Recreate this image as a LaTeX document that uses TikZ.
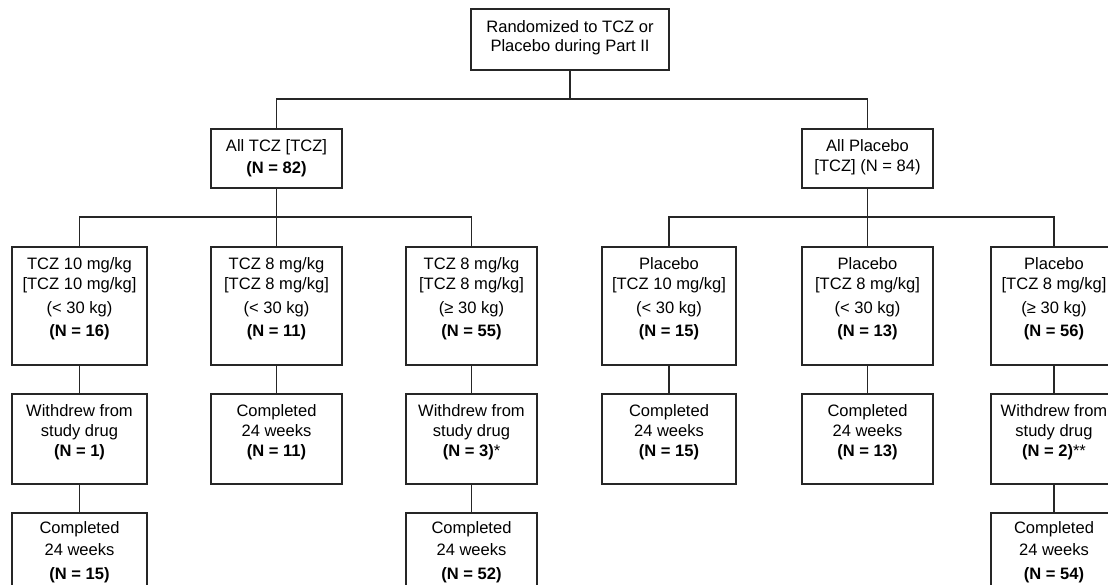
\documentclass[tikz,border=0pt]{standalone}
\usepackage{fontspec}
\setmainfont{Liberation Sans}
\newcommand{\boxtxt}[4]{\parbox[t][\dimexpr#2pt*3/4\relax][t]{\dimexpr#1pt*3/4\relax}{\centering\fontsize{12.4pt}{15pt}\selectfont\rule{0pt}{\dimexpr#3pt*3/4\relax}#4\par}}
\tikzset{
  fbox/.style={draw=black!85, line width=1pt, inner sep=0pt, rectangle},
  conn/.style={draw=black!85, line width=1pt}
}
\begin{document}
\begin{tikzpicture}[x=0.75pt,y=-0.75pt]
\useasboundingbox (0,0) rectangle (1108,585);
\clip (0,0) rectangle (1108,585);
% top
\node[fbox] (top) at (570,39.5) {\boxtxt{198}{61}{24}{Randomized to TCZ or\\[-0.75pt]Placebo during Part II}};
% level 2
\node[fbox] (tcz) at (276.5,158.5) {\boxtxt{131}{59}{22.7}{All TCZ [TCZ]\\[1.5pt]\textbf{(N = 82)}}};
\node[fbox] (pla) at (867.5,158.5) {\boxtxt{131}{59}{22.7}{All Placebo\\{[TCZ] (N = 84)}}};
% level 3
\node[fbox] (b1) at (79.5,306) {\boxtxt{135}{118}{22}{TCZ 10 mg/kg\\{[TCZ 10 mg/kg]}\\[3pt](< 30 kg)\\[3pt]\textbf{(N = 16)}}};
\node[fbox] (b2) at (276.5,306) {\boxtxt{131}{118}{22}{TCZ 8 mg/kg\\{[TCZ 8 mg/kg]}\\[3pt](< 30 kg)\\[3pt]\textbf{(N = 11)}}};
\node[fbox] (b3) at (471.5,306) {\boxtxt{131}{118}{22}{TCZ 8 mg/kg\\{[TCZ 8 mg/kg]}\\[3pt](≥ 30 kg)\\[3pt]\textbf{(N = 55)}}};
\node[fbox] (b4) at (669,306) {\boxtxt{134}{118}{22}{Placebo\\{[TCZ 10 mg/kg]}\\[3pt](< 30 kg)\\[3pt]\textbf{(N = 15)}}};
\node[fbox] (b5) at (867.5,306) {\boxtxt{131}{118}{22}{Placebo\\{[TCZ 8 mg/kg]}\\[3pt](< 30 kg)\\[3pt]\textbf{(N = 13)}}};
\node[fbox] (b6) at (1054,306) {\boxtxt{126}{118}{22}{Placebo\\{[TCZ 8 mg/kg]}\\[3pt](≥ 30 kg)\\[3pt]\textbf{(N = 56)}}};
% level 4
\node[fbox] (r1) at (79.5,439) {\boxtxt{135}{90}{22}{Withdrew from\\study drug\\\textbf{(N = 1)}}};
\node[fbox] (r2) at (276.5,439) {\boxtxt{131}{90}{22}{Completed\\24 weeks\\\textbf{(N = 11)}}};
\node[fbox] (r3) at (471.5,439) {\boxtxt{131}{90}{22}{Withdrew from\\study drug\\\textbf{(N = 3)}*}};
\node[fbox] (r4) at (669,439) {\boxtxt{134}{90}{22}{Completed\\24 weeks\\\textbf{(N = 15)}}};
\node[fbox] (r5) at (867.5,439) {\boxtxt{131}{90}{22}{Completed\\24 weeks\\\textbf{(N = 13)}}};
\node[fbox] (r6) at (1054,439) {\boxtxt{126}{90}{22}{Withdrew from\\study drug\\\textbf{(N = 2)}**}};
% level 5
\node[fbox] (s1) at (79.5,558) {\boxtxt{135}{90}{20}{Completed\\[1.5pt]24 weeks\\[3pt]\textbf{(N = 15)}}};
\node[fbox] (s3) at (471.5,558) {\boxtxt{131}{90}{20}{Completed\\[1.5pt]24 weeks\\[3pt]\textbf{(N = 52)}}};
\node[fbox] (s6) at (1054,558) {\boxtxt{126}{90}{20}{Completed\\[1.5pt]24 weeks\\[3pt]\textbf{(N = 54)}}};
% junctions
\coordinate (j1) at (570,99);
\coordinate (j2) at (276.5,217);
\coordinate (j3) at (867.5,217);
% connectors
\draw[conn] (top.south) -- (j1);
\draw[conn] (tcz.north) |- (j1) -| (pla.north);
\draw[conn] (tcz.south) -- (j2);
\draw[conn] (b1.north) |- (j2) -| (b3.north);
\draw[conn] (j2) -- (b2.north);
\draw[conn] (pla.south) -- (j3);
\draw[conn] (b4.north) |- (j3) -| (b6.north);
\draw[conn] (j3) -- (b5.north);
\draw[conn] (b1.south) -- (r1.north);
\draw[conn] (b2.south) -- (r2.north);
\draw[conn] (b3.south) -- (r3.north);
\draw[conn] (b4.south) -- (r4.north);
\draw[conn] (b5.south) -- (r5.north);
\draw[conn] (b6.south) -- (r6.north);
\draw[conn] (r1.south) -- (s1.north);
\draw[conn] (r3.south) -- (s3.north);
\draw[conn] (r6.south) -- (s6.north);
\end{tikzpicture}
\end{document}
